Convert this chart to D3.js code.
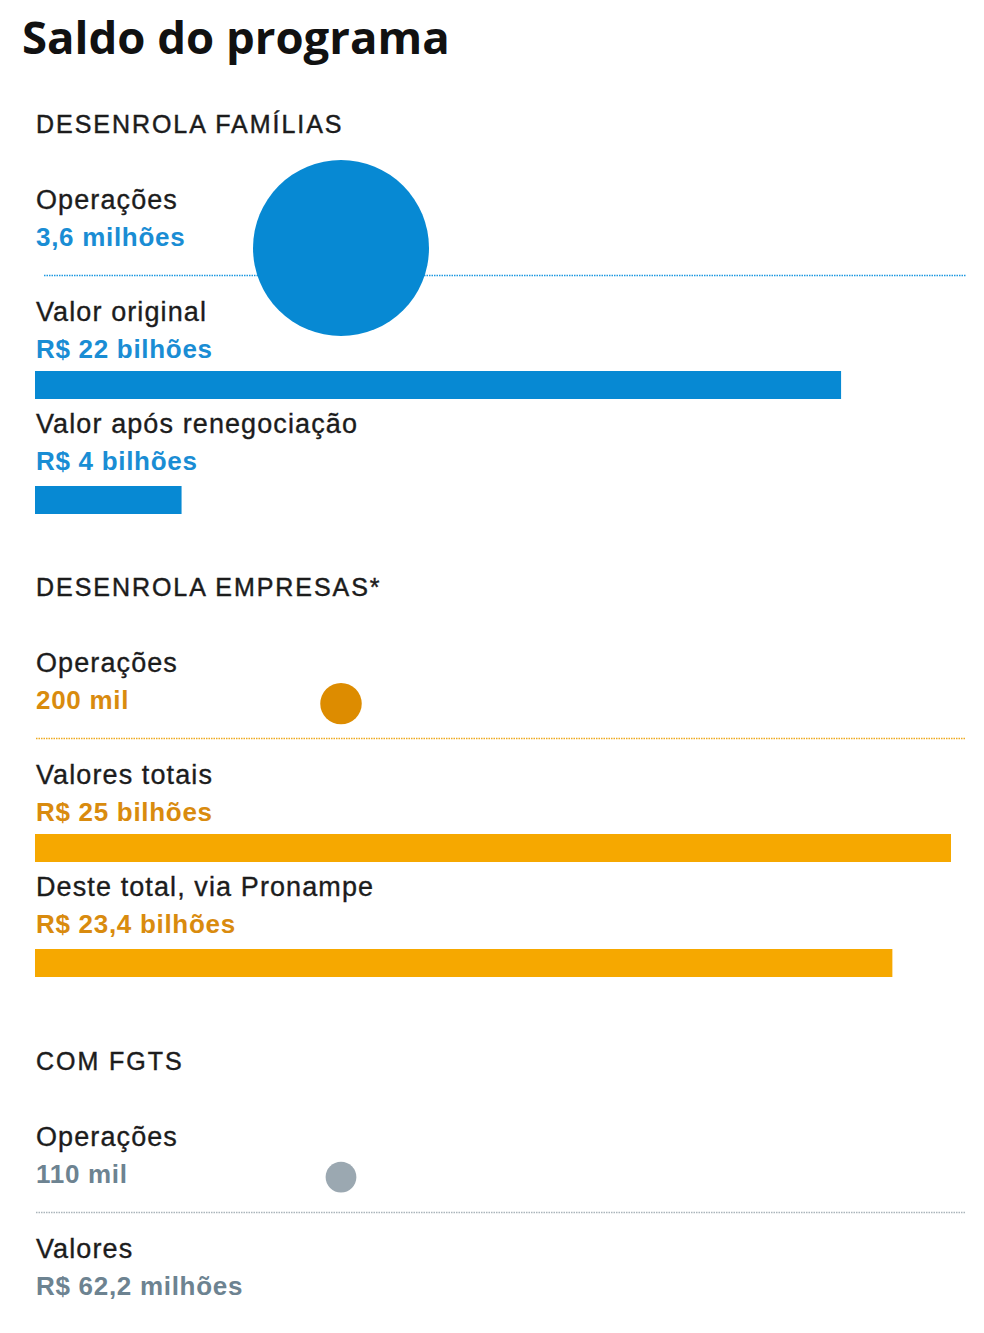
<!DOCTYPE html>
<html>
<head>
<meta charset="utf-8">
<script src="https://cdn.jsdelivr.net/npm/d3@7"></script>
<style>
  body { margin: 0; background: #fff; }
  .title { font-family: "Open Sans", sans-serif; font-weight: 700; font-size: 45.5px; fill: #111; }
  .header { font-family: "Liberation Sans", Arial, sans-serif; font-size: 25px; letter-spacing: 1.95px; fill: #1c1c1c; stroke: #1c1c1c; stroke-width: 0.45px; }
  .label { font-family: "Liberation Sans", Arial, sans-serif; font-size: 27px; letter-spacing: 1.1px; fill: #1c1c1c; stroke: #1c1c1c; stroke-width: 0.35px; }
  .value { font-family: "Liberation Sans", Arial, sans-serif; font-size: 26px; font-weight: 700; letter-spacing: 0.7px; }
</style>
</head>
<body>
<svg id="chart" width="984" height="1333"></svg>
<script>
// data
var titleText = "Saldo do programa";
var sectionNames = ["DESENROLA FAMÍLIAS", "DESENROLA EMPRESAS*", "COM FGTS"];
var operations = [3600000, 200000, 110000];
var operationTexts = ["3,6 milhões", "200 mil", "110 mil"];

var familiasLabels = ["Valor original", "Valor após renegociação"];
var familiasValues = [22, 4]; // R$ bilhões
var familiasTexts = ["R$ 22 bilhões", "R$ 4 bilhões"];

var empresasLabels = ["Valores totais", "Deste total, via Pronampe"];
var empresasValues = [25, 23.4];
var empresasTexts = ["R$ 25 bilhões", "R$ 23,4 bilhões"];

var fgtsLabels = ["Valores"];
var fgtsValues = [0.0622];
var fgtsTexts = ["R$ 62,2 milhões"];

// colours per section
var palette = [
  { mark: "#0789d3", bar: "#0789d3", text: "#1a8dd4", rule: "#1e98e0" },
  { mark: "#dd8c00", bar: "#f6a800", text: "#d98b0e", rule: "#eeaa20" },
  { mark: "#9ba8b1", bar: "#9ba8b1", text: "#6d8391", rule: "#aab4ba" }
];

var sections = [
  { labels: familiasLabels, values: familiasValues, texts: familiasTexts, bars: true },
  { labels: empresasLabels, values: empresasValues, texts: empresasTexts, bars: true },
  { labels: fgtsLabels, values: fgtsValues, texts: fgtsTexts, bars: false }
];

// layout
var sectionGaps = [82, 93];   // last bar -> next header
var barOffsets = [13.5, 16];  // value text -> bar top, per row

var svg = d3.select("#chart");
var left = 36;

var x = d3.scaleLinear().domain([0, 25]).range([0, 916]);
var r = d3.scaleSqrt().domain([0, 3600000]).range([0, 88]);

svg.append("text").attr("class", "title")
  .attr("x", 22).attr("y", 54).text(titleText);

var y = 133;

sections.forEach(function(sec, i){
  var col = palette[i];
  var g = svg.append("g");

  g.append("text").attr("class", "header")
    .attr("x", left).attr("y", y).text(sectionNames[i]);

  // operations row
  var opY = y + 75.5;
  g.append("text").attr("class", "label")
    .attr("x", left).attr("y", opY).text("Operações");
  g.append("text").attr("class", "value").style("fill", col.text)
    .attr("x", left).attr("y", opY + 37).text(operationTexts[i]);

  var lineY = opY + 67;
  g.append("line")
    .attr("x1", i === 0 ? 44 : left).attr("x2", 966)
    .attr("y1", lineY).attr("y2", lineY)
    .attr("stroke", col.rule).attr("stroke-width", 1.3)
    .attr("stroke-dasharray", "1.5,1");

  var rad = r(operations[i]);
  g.append("circle")
    .attr("cx", 341)
    .attr("cy", lineY - 35.5 + (rad - 15) * 0.11)
    .attr("r", rad)
    .attr("fill", col.mark);

  // value rows
  var rowY = lineY + 45;
  var barBottom = rowY;
  sec.labels.forEach(function(lab, j){
    g.append("text").attr("class", "label")
      .attr("x", left).attr("y", rowY).text(lab);
    g.append("text").attr("class", "value").style("fill", col.text)
      .attr("x", left).attr("y", rowY + 37).text(sec.texts[j]);
    var barTop = rowY + 37 + barOffsets[j];
    if (sec.bars) {
      g.append("rect")
        .attr("x", 35).attr("y", barTop)
        .attr("width", x(sec.values[j]))
        .attr("height", 28)
        .attr("fill", col.bar);
    }
    barBottom = barTop + 28;
    rowY = barBottom + 34;
  });

  y = barBottom + (sectionGaps[i] || 0);
});
</script>
</body>
</html>
